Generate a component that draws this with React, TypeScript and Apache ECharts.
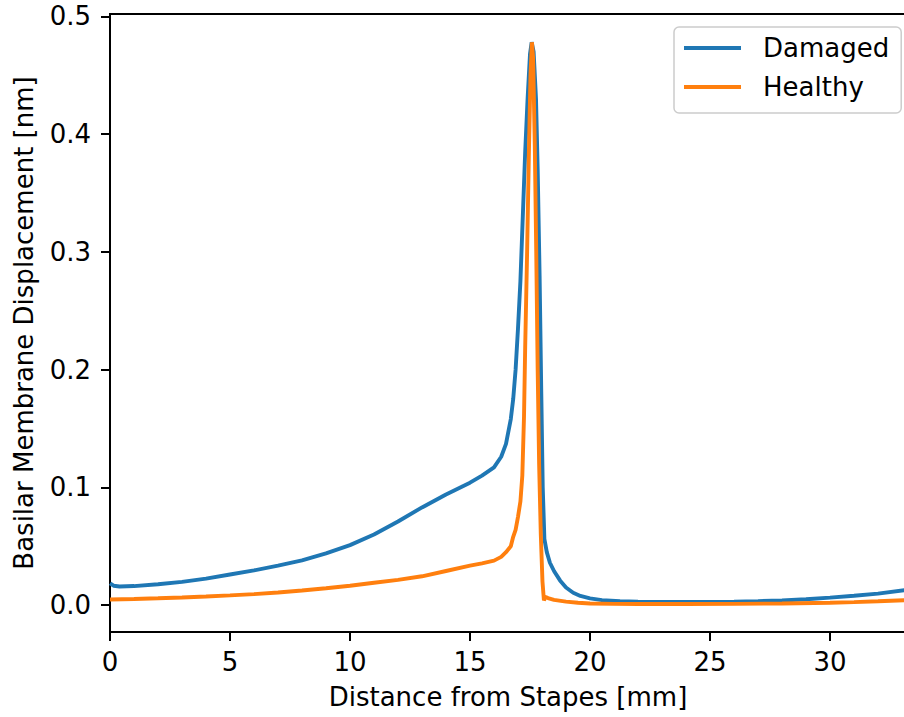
import React, { useEffect, useRef } from "react";
import * as echarts from "echarts";

const xTicks = [0, 5, 10, 15, 20, 25, 30];
const yTicks = [0, 0.1, 0.2, 0.3, 0.4, 0.5];

const damagedX = [
  0, 0.15, 0.4, 1, 2, 3, 4, 5, 6, 7, 8, 9, 10, 11, 12, 13, 14, 15, 15.5, 16, 16.3, 16.5, 16.7,
  16.8, 16.9, 17.0, 17.1, 17.2, 17.3, 17.4, 17.5, 17.57, 17.65, 17.75, 17.82, 17.9, 17.97,
  18.03, 18.1, 18.2, 18.33, 18.5, 18.75, 19.0, 19.3, 19.6, 20.0, 20.5, 21.25, 22, 23, 24, 25,
  26, 27, 28, 29, 30, 31, 32, 33.17,
];
const damagedY = [
  0.0185, 0.0165, 0.0158, 0.0162, 0.0178, 0.0198, 0.0225, 0.026, 0.0295, 0.0335, 0.038,
  0.044, 0.051, 0.06, 0.071, 0.083, 0.094, 0.104, 0.11, 0.117, 0.126, 0.137, 0.158, 0.175,
  0.2, 0.235, 0.275, 0.33, 0.385, 0.43, 0.468, 0.478, 0.47, 0.43, 0.37, 0.28, 0.18, 0.1,
  0.056, 0.045, 0.036, 0.029, 0.021, 0.015, 0.0105, 0.0078, 0.0057, 0.0043, 0.0033, 0.0029,
  0.0027, 0.0027, 0.0027, 0.003, 0.0034, 0.004, 0.005, 0.0064, 0.008, 0.0098, 0.0128,
];

const healthyX = [
  0, 1, 2, 3, 4, 5, 6, 7, 8, 9, 10, 11, 12, 13, 14, 15, 15.5, 16, 16.3, 16.5, 16.7, 16.8,
  16.9, 17.0, 17.1, 17.18, 17.25, 17.3, 17.38, 17.45, 17.52, 17.58, 17.63, 17.7, 17.76, 17.82,
  17.88, 17.95, 18.02, 18.08, 18.15, 18.25, 18.5, 19, 19.5, 20, 21, 22, 24, 26, 28, 30, 31,
  32, 33.17,
];
const healthyY = [
  0.0048, 0.0052, 0.0058, 0.0065, 0.0073, 0.0083, 0.0094, 0.0107, 0.0124, 0.0143, 0.0165,
  0.019, 0.0215, 0.0245, 0.029, 0.0335, 0.0355, 0.0378, 0.041, 0.045, 0.05, 0.058, 0.064,
  0.075, 0.088, 0.11, 0.16, 0.22, 0.3, 0.38, 0.45, 0.478, 0.465, 0.39, 0.3, 0.2, 0.12, 0.06,
  0.02, 0.004, 0.007, 0.006, 0.0045, 0.003, 0.002, 0.0014, 0.0011, 0.001, 0.001, 0.0011,
  0.0014, 0.002, 0.0026, 0.0033, 0.0042,
];

const seriesNames = ["Damaged", "Healthy"];
const FONT = "DejaVu Sans";

export default function App() {
  const ref = useRef<HTMLDivElement>(null);
  useEffect(() => {
    if (!ref.current) return;
    const chart = echarts.init(ref.current, null, { renderer: "svg" });
    const pair = (xs: number[], ys: number[]) => xs.map((x, i) => [x, ys[i]]);
    chart.setOption({
      animation: false,
      backgroundColor: "#ffffff",
      textStyle: { fontFamily: FONT },
      grid: {
        left: 110,
        top: 14,
        width: 796,
        height: 618,
        containLabel: false,
        outerBoundsMode: "none",
        show: true,
        borderColor: "#000000",
        borderWidth: 2,
        backgroundColor: "transparent",
      },
      legend: {
        orient: "vertical",
        left: 674,
        top: 27,
        icon: "rect",
        itemWidth: 57,
        itemHeight: 4,
        itemGap: 9,
        padding: [6, 12, 11, 10],
        backgroundColor: "rgba(255,255,255,0.8)",
        borderColor: "#cccccc",
        borderWidth: 1.5,
        borderRadius: 5,
        textStyle: { fontSize: 26, color: "#000000", fontFamily: FONT, lineHeight: 30, padding: [0, 0, 0, 17] },
        data: seriesNames,
      },
      xAxis: {
        type: "value",
        min: 0,
        max: 796 / 24,
        name: "Distance from Stapes [mm]",
        nameLocation: "middle",
        nameGap: 52,
        nameTextStyle: { fontSize: 26, color: "#000000", fontFamily: FONT },
        axisLine: { show: false, onZero: false },
        splitLine: { show: false },
        axisTick: {
          show: true,
          inside: false,
          length: 9,
          customValues: xTicks,
          lineStyle: { color: "#000000", width: 2 },
        },
        axisLabel: {
          show: true,
          margin: 17,
          fontSize: 26,
          color: "#000000",
          fontFamily: FONT,
          customValues: xTicks,
          formatter: (v: number) => String(v),
        },
      },
      yAxis: {
        type: "value",
        min: -0.0228,
        max: 0.502,
        name: "Basilar Membrane Displacement [nm]",
        nameLocation: "middle",
        nameGap: 73,
        nameRotate: 90,
        nameTextStyle: { fontSize: 26, color: "#000000", fontFamily: FONT },
        axisLine: { show: false, onZero: false },
        splitLine: { show: false },
        axisTick: {
          show: true,
          inside: false,
          length: 9,
          customValues: yTicks,
          lineStyle: { color: "#000000", width: 2 },
        },
        axisLabel: {
          show: true,
          margin: 19,
          fontSize: 26,
          color: "#000000",
          fontFamily: FONT,
          customValues: yTicks,
          formatter: (v: number) => v.toFixed(1),
        },
      },
      series: [
        {
          name: seriesNames[0],
          type: "line",
          data: pair(damagedX, damagedY),
          showSymbol: false,
          symbol: "none",
          clip: true,
          lineStyle: { color: "#1f77b4", width: 3.9 },
          itemStyle: { color: "#1f77b4" },
        },
        {
          name: seriesNames[1],
          type: "line",
          data: pair(healthyX, healthyY),
          showSymbol: false,
          symbol: "none",
          clip: true,
          lineStyle: { color: "#ff7f0e", width: 3.9 },
          itemStyle: { color: "#ff7f0e" },
        },
      ],
    });
    return () => chart.dispose();
  }, []);
  return (
    <div
      ref={ref}
      style={{ position: "fixed", left: 0, top: 0, width: 904, height: 717, background: "#fff" }}
    />
  );
}
